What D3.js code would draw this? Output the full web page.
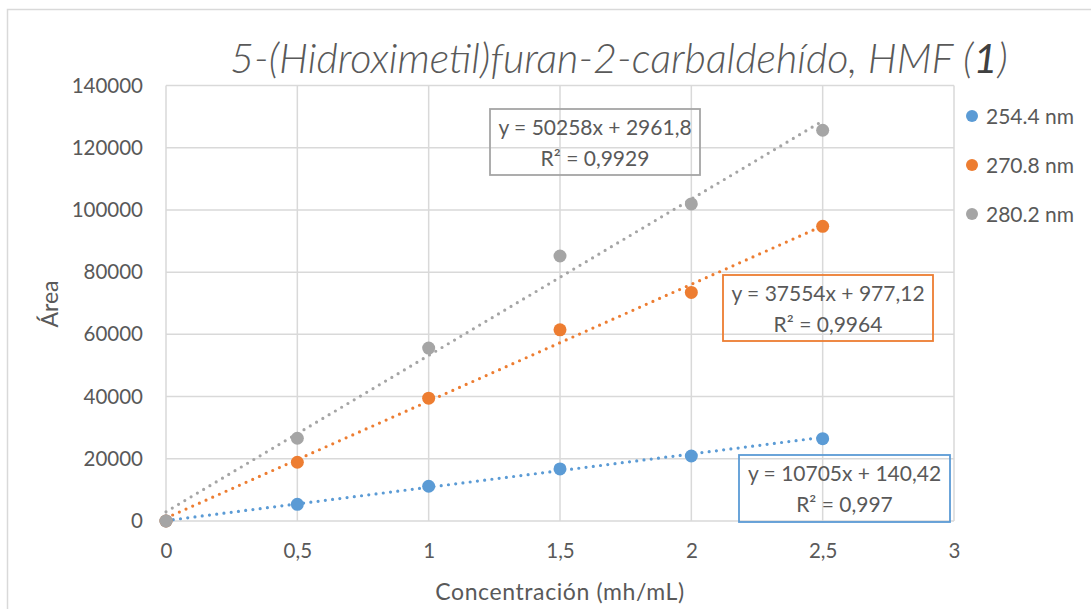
<!DOCTYPE html>
<html>
<head>
<meta charset="utf-8">
<script src="https://cdn.jsdelivr.net/npm/d3@7"></script>
<style>
  html, body { margin: 0; padding: 0; background: #ffffff; }
  svg { display: block; }
  text { font-family: Lato, "Open Sans", sans-serif; fill: #595959; }
</style>
</head>
<body>
<svg id="chart" width="1091" height="609"></svg>
<script>
// ---- data ----
const concentrations = [0, 0.5, 1, 1.5, 2, 2.5];
const seriesNames = ["254.4 nm", "270.8 nm", "280.2 nm"];
const values254 = [0, 5370, 11170, 16740, 20900, 26470];
const values270 = [0, 18880, 39490, 61470, 73480, 94720];
const values280 = [0, 26600, 55580, 85190, 101930, 125620];
const trendSlopes = [10705, 37554, 50258];
const trendIntercepts = [140.42, 977.12, 2961.8];
const equationLabels = ["y = 10705x + 140,42", "y = 37554x + 977,12", "y = 50258x + 2961,8"];
const r2Labels = ["R² = 0,997", "R² = 0,9964", "R² = 0,9929"];
const xTicks = [0, 0.5, 1, 1.5, 2, 2.5, 3];
const yTicks = [0, 20000, 40000, 60000, 80000, 100000, 120000, 140000];
const titleMain = "5-(Hidroximetil)furan-2-carbaldehído, HMF (";
const titleNum = "1";
const titleEnd = ")";
const xTitle = "Concentración (mh/mL)";
const yTitle = "Área";

// ---- styling / layout ----
const colors = ["#5b9bd5", "#ed7d31", "#a5a5a5"];
const allValues = [values254, values270, values280];
const plot = { left: 166, right: 954, top: 85.5, bottom: 521 };
const svg = d3.select("#chart");

// outer chart border
svg.append("rect")
  .attr("x", 7.5).attr("y", 9.5).attr("width", 1200).attr("height", 800)
  .attr("fill", "#fff").attr("stroke", "#d9d9d9").attr("stroke-width", 1.5);

const x = d3.scaleLinear().domain([0, 3]).range([plot.left, plot.right]);
const y = d3.scaleLinear().domain([0, 140000]).range([plot.bottom, plot.top]);

// gridlines
const grid = svg.append("g");
grid.selectAll("line.h").data(yTicks).join("line")
  .attr("x1", plot.left).attr("x2", plot.right)
  .attr("y1", d => y(d)).attr("y2", d => y(d))
  .attr("stroke", "#d9d9d9").attr("stroke-width", 1.5);
grid.selectAll("line.v").data(xTicks).join("line")
  .attr("y1", plot.top).attr("y2", plot.bottom)
  .attr("x1", d => x(d)).attr("x2", d => x(d))
  .attr("stroke", "#d9d9d9").attr("stroke-width", 1.5);

// axes (labels only, lines via gridlines)
const fmt = d => String(d).replace(".", ",");
const xAxis = svg.append("g")
  .attr("transform", `translate(0,${plot.bottom})`)
  .call(d3.axisBottom(x).tickValues(xTicks).tickFormat(fmt).tickSize(0).tickPadding(22));
const yAxis = svg.append("g")
  .attr("transform", `translate(${plot.left},0)`)
  .call(d3.axisLeft(y).tickValues(yTicks).tickFormat(d3.format("d")).tickSize(0).tickPadding(23));
[xAxis, yAxis].forEach(a => {
  a.select(".domain").remove();
  a.selectAll("text").attr("font-size", 20.5).attr("fill", "#595959")
    .attr("font-family", "Lato, 'Open Sans', sans-serif");
});
xAxis.selectAll("text").attr("dy", "0.71em");

// trendlines
const trends = svg.append("g");
seriesNames.forEach((name, i) => {
  trends.append("line")
    .attr("x1", x(0)).attr("y1", y(trendIntercepts[i]))
    .attr("x2", x(2.5)).attr("y2", y(trendSlopes[i] * 2.5 + trendIntercepts[i]))
    .attr("stroke", colors[i]).attr("stroke-width", 3.2)
    .attr("stroke-linecap", "round").attr("stroke-dasharray", "0 7.3");
});

// points
seriesNames.forEach((name, i) => {
  svg.append("g").selectAll("circle").data(concentrations).join("circle")
    .attr("cx", d => x(d)).attr("cy", (d, j) => y(allValues[i][j]))
    .attr("r", 6.5).attr("fill", colors[i]);
});

// equation boxes
const boxes = [
  { x: 739, y: 455, w: 211, h: 67 },
  { x: 723, y: 275, w: 210, h: 66 },
  { x: 490, y: 109, w: 210, h: 66 }
];
boxes.forEach((b, i) => {
  const g = svg.append("g");
  g.append("rect").attr("x", b.x).attr("y", b.y).attr("width", b.w).attr("height", b.h)
    .attr("fill", "none").attr("stroke", colors[i]).attr("stroke-width", 1.8);
  g.append("text").attr("x", b.x + b.w / 2).attr("y", b.y + 26)
    .attr("text-anchor", "middle").attr("font-size", 21).text(equationLabels[i]);
  g.append("text").attr("x", b.x + b.w / 2).attr("y", b.y + 57)
    .attr("text-anchor", "middle").attr("font-size", 21).text(r2Labels[i]);
});

// legend
const legend = svg.append("g");
const legendY = [116, 165, 214];
seriesNames.forEach((name, i) => {
  legend.append("circle").attr("cx", 972).attr("cy", legendY[i]).attr("r", 6).attr("fill", colors[i]);
  legend.append("text").attr("x", 986).attr("y", legendY[i] + 7.5).attr("font-size", 21).text(name);
});

// title
const title = svg.append("text").attr("x", 230).attr("y", 73)
  .attr("font-size", 36).attr("font-style", "italic").attr("font-weight", 300).attr("fill", "#595959");
title.append("tspan").text(titleMain);
title.append("tspan").attr("font-weight", 400).attr("fill", "#404040").text(titleNum);
title.append("tspan").text(titleEnd);
const tw = title.node().getComputedTextLength();
title.attr("font-size", 36 * 778 / tw);

// axis titles
svg.append("text").attr("x", 560).attr("y", 600).attr("text-anchor", "middle")
  .attr("font-size", 23).attr("letter-spacing", 0.6).text(xTitle);
svg.append("text").attr("transform", "translate(58,304) rotate(-90)").attr("text-anchor", "middle")
  .attr("font-size", 23).text(yTitle);
</script>
</body>
</html>
